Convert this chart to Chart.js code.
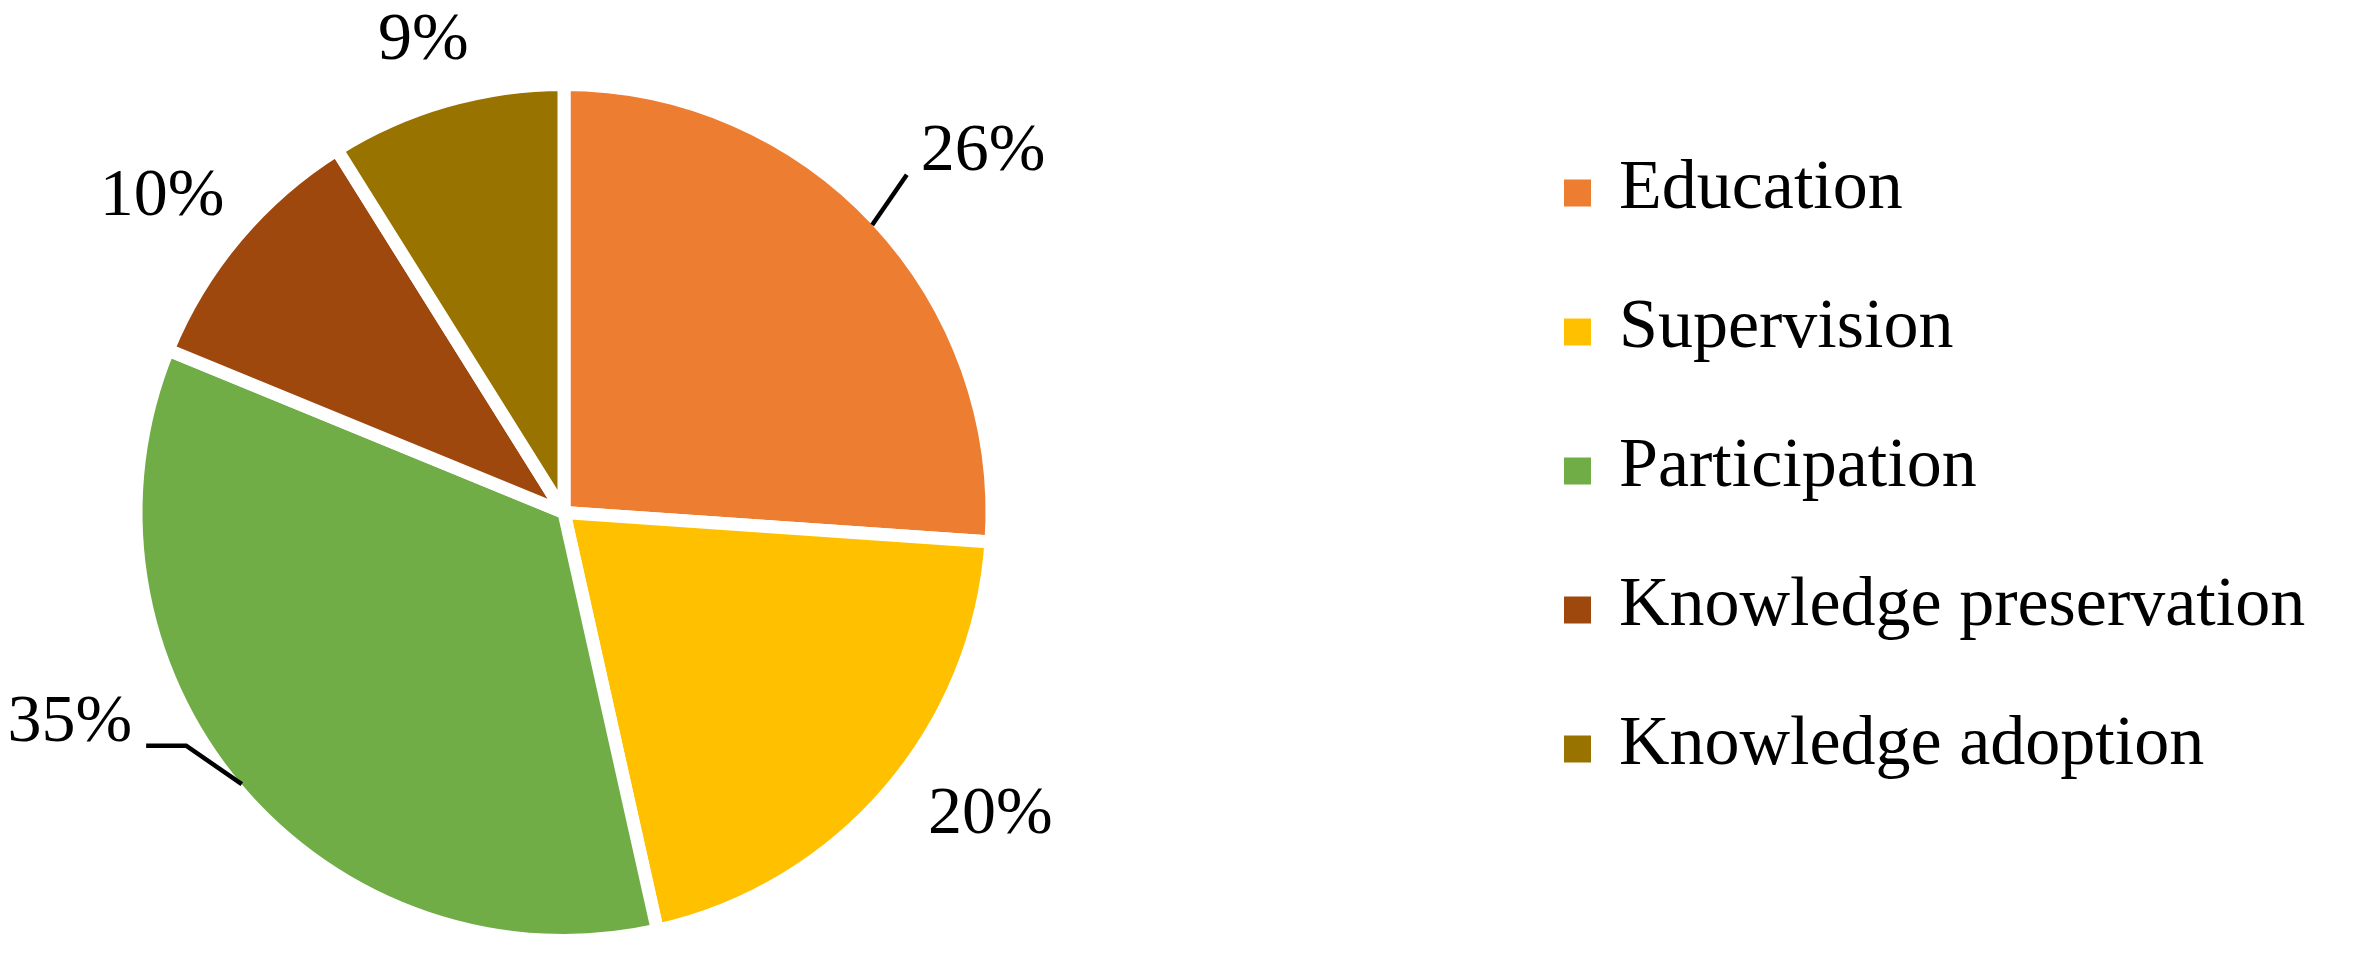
<!DOCTYPE html>
<html lang="en">
<head>
    <meta charset="utf-8">
    <title>Pie chart</title>
    <style>
        html, body { margin: 0; padding: 0; background: #fff; }
        #wrap { width: 2357px; height: 953px; }
    </style>
</head>
<body>
    <div id="wrap"><canvas id="pieChart"></canvas></div>

    <script src="https://cdn.jsdelivr.net/npm/chart.js"></script>
    <script>
        // chart data (shares in %)
        const categories = ['Education', 'Supervision', 'Participation', 'Knowledge preservation', 'Knowledge adoption'];
        const shares = [26.1, 20.4, 34.7, 9.9, 8.9];
        const sliceColors = ['#ED7D31', '#FFC000', '#70AD47', '#9E480E', '#997300'];

        // where each percentage sits: turn (deg) off the slice middle, distance past the radius,
        // leader = length of the flat part of the leader line (null = no leader)
        const labelPlacement = [
            {turn: 2.3, out: 125, leader: 0},
            {turn: -5.3, out: 95, leader: null},
            {turn: 17.1, out: 109, leader: 40},
            {turn: -2.0, out: 83, leader: null},
            {turn: -0.6, out: 64, leader: null}
        ];

        const labelFont = '68px "Liberation Serif", "Times New Roman", serif';
        const legendFont = '70px "Liberation Serif", "Times New Roman", serif';
        const sliceBorder = 13;

        /**
         * Percentages around the pie, with leader lines where needed
         */
        const pieLabels = {
            id: 'pieLabels',
            afterDatasetsDraw(chart) {
                const ctx = chart.ctx;
                const meta = chart.getDatasetMeta(0);
                const total = shares.reduce((s, v) => s + v, 0);
                ctx.save();
                ctx.font = labelFont;
                ctx.fillStyle = '#000';
                ctx.strokeStyle = '#000';
                ctx.lineWidth = 4.5;
                ctx.textAlign = 'center';
                ctx.textBaseline = 'middle';
                meta.data.forEach(function (arc, i) {
                    const p = labelPlacement[i];
                    const a = arc.getProps(['x', 'y', 'startAngle', 'endAngle', 'outerRadius'], true);
                    const mid = (a.startAngle + a.endAngle) / 2;
                    const rim = a.outerRadius - sliceBorder / 2;
                    const ang = mid + p.turn * Math.PI / 180;
                    const cx = a.x + Math.cos(ang) * (a.outerRadius + p.out);
                    const cy = a.y + Math.sin(ang) * (a.outerRadius + p.out);
                    const text = Math.round(shares[i] / total * 100) + '%';
                    ctx.fillText(text, cx, cy);
                    if (p.leader !== null) {
                        const w = ctx.measureText(text).width;
                        const onRight = Math.cos(mid) > 0;
                        const endX = onRight ? cx - w / 2 - 14 : cx + w / 2 + 14;
                        const elbowX = onRight ? endX - p.leader : endX + p.leader;
                        const ly = cy + 23;
                        ctx.beginPath();
                        ctx.moveTo(a.x + Math.cos(mid) * rim, a.y + Math.sin(mid) * rim);
                        ctx.lineTo(elbowX, ly);
                        ctx.lineTo(endX, ly);
                        ctx.stroke();
                    }
                });
                ctx.restore();
            }
        };

        /**
         * Legend on the right, square swatch + category name
         */
        const sideLegend = {
            id: 'sideLegend',
            afterDraw(chart) {
                const ctx = chart.ctx;
                const ds = chart.data.datasets[0];
                const boxX = 1564, box = 27, textX = 1619, firstRow = 193, rowStep = 139;
                ctx.save();
                ctx.font = legendFont;
                ctx.textAlign = 'left';
                ctx.textBaseline = 'middle';
                chart.data.labels.forEach(function (label, i) {
                    const y = firstRow + i * rowStep;
                    ctx.fillStyle = ds.backgroundColor[i];
                    ctx.fillRect(boxX, y - box / 2, box, box);
                    ctx.fillStyle = '#000';
                    ctx.fillText(label, textX, y - 3);
                });
                ctx.restore();
            }
        };

        const pieChart = new Chart(document.getElementById('pieChart'), {
            type: 'pie',
            data: {
                labels: categories,
                datasets: [{
                    data: shares,
                    backgroundColor: sliceColors,
                    borderColor: '#ffffff',
                    borderWidth: sliceBorder,
                    radius: 428,
                    clip: false
                }]
            },
            options: {
                responsive: true,
                maintainAspectRatio: false,
                animation: false,
                events: [],
                layout: {
                    padding: {left: 0, top: 84, right: 1229, bottom: 12}
                },
                plugins: {
                    legend: {display: false},
                    tooltip: {enabled: false}
                }
            },
            plugins: [pieLabels, sideLegend]
        });
    </script>
</body>
</html>
